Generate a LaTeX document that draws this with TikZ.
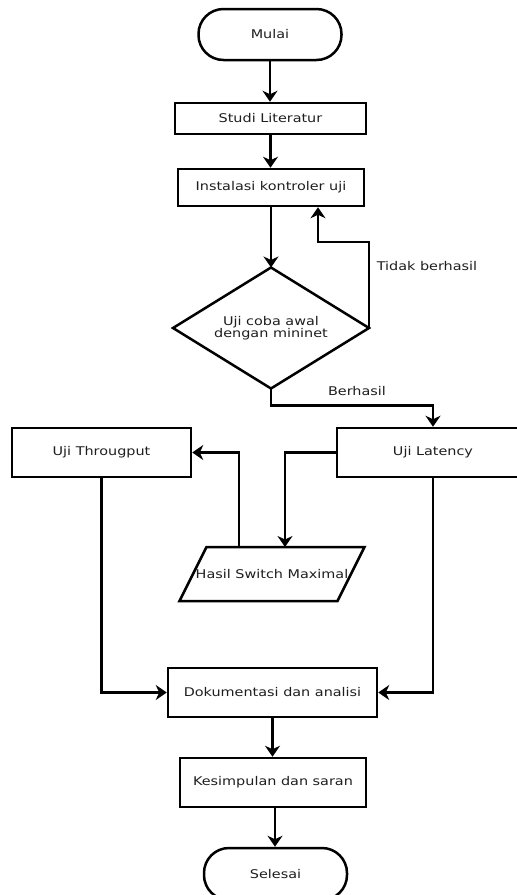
\documentclass[tikz,border=0pt]{standalone}
\usepackage{fontspec}
\setmainfont[FakeStretch=1.2]{DejaVu Sans}
\usetikzlibrary{arrows.meta,calc}
\definecolor{txt}{HTML}{1E1E1E}
\begin{document}
\begin{tikzpicture}[x=1pt,y=-1pt,line width=2.5pt,
  font=\fontsize{12}{11.5}\selectfont,
  every node/.style={text=txt},
  box/.style={draw,rectangle,inner sep=0pt},
  term/.style={draw,rectangle,rounded corners=25pt,inner sep=0pt},
  arr/.style={-{Stealth[length=11pt,width=15pt,inset=3.5pt]}},
  lbl/.style={inner sep=0pt}]
\useasboundingbox (0,0) rectangle (517,895);
\clip (0,0) rectangle (517,895);
\node[term,minimum width=143pt,minimum height=51pt] (mulai) at (270,34.5) {Mulai};
\node[box,minimum width=191pt,minimum height=31pt] (studi) at (270.5,118.5) {Studi Literatur};
\node[box,minimum width=186pt,minimum height=37pt] (instal) at (271,187.5) {Instalasi kontroler uji};
\node[rectangle,inner sep=0pt,outer sep=0pt,minimum width=196pt,minimum height=121pt,align=center] (uji) at (271,328) {Uji coba awal\\dengan mininet};
\draw (uji.north) -- (uji.east) -- (uji.south) -- (uji.west) -- cycle;
\node[box,minimum width=192pt,minimum height=49pt] (latency) at (433,452.5) {Uji Latency};
\node[box,minimum width=179pt,minimum height=49pt] (through) at (101.5,452.5) {Uji Througput};
\node[rectangle,inner sep=0pt,outer sep=0pt,minimum width=158pt,minimum height=54pt] (hasil) at (272,574) {Hasil Switch Maximal};
\draw ([xshift=13.5pt]hasil.north west) -- ([xshift=13.5pt]hasil.north east)
  -- ([xshift=-13.5pt]hasil.south east) -- ([xshift=-13.5pt]hasil.south west) -- cycle;
\node[box,minimum width=209pt,minimum height=49pt] (dok) at (272.5,692.5) {Dokumentasi dan analisi};
\node[box,minimum width=186pt,minimum height=49pt] (kes) at (273,782.5) {Kesimpulan dan saran};
\node[term,minimum width=143pt,minimum height=52pt] (selesai) at (275.5,874) {Selesai};
\node[lbl] (tidak) at (427,266) {Tidak berhasil};
\node[lbl] (berhasil) at (357,391) {Berhasil};
% connectors
\draw[arr] (mulai.south) -- (mulai.south |- studi.north);
\draw[arr] (studi.south) -- (studi.south |- instal.north);
\draw[arr] (instal.south) -- (uji.north);
\draw[arr] (uji.east) -- ++(0,-86) -| ([xshift=47pt]instal.south);
\draw[arr] (uji.south) -- ++(0,17) -| (latency.north);
\draw[arr] (latency.west) -| ([xshift=13pt]hasil.north);
\draw[arr] ([xshift=-33pt]hasil.north) |- (through.east);
\draw[arr] (through.south) |- (dok.west);
\draw[arr] (latency.south) |- (dok.east);
\draw[arr] (dok.south) -- (dok.south |- kes.north);
\draw[arr] ([xshift=2pt]kes.south) -- ([xshift=2pt]kes.south |- selesai.north);
\end{tikzpicture}
\end{document}
